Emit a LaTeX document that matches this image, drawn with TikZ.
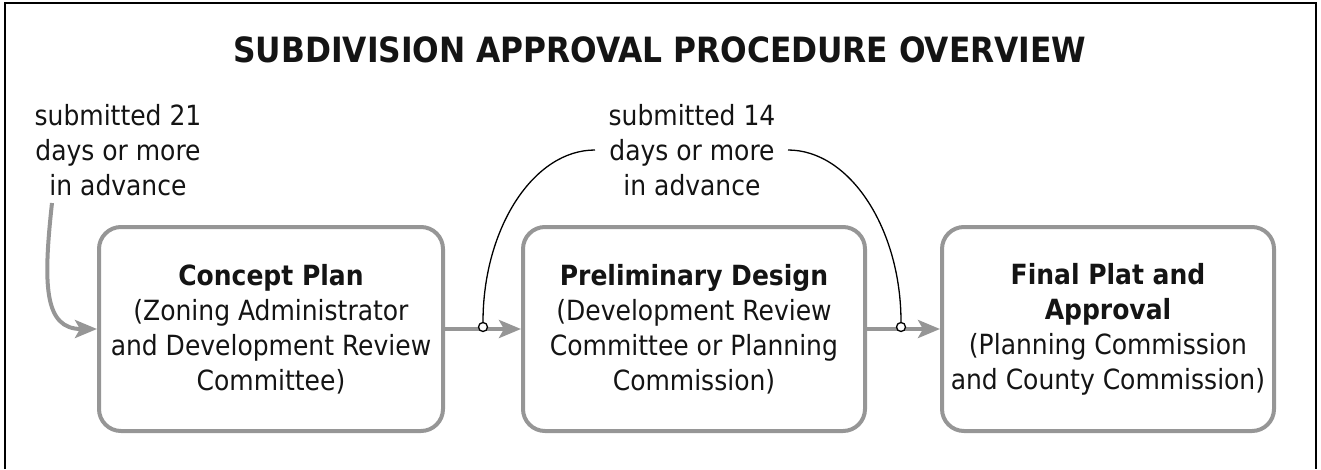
\documentclass[tikz,border=0pt]{standalone}
\usepackage{fontspec}
\setmainfont{DejaVu Sans Condensed}
\usetikzlibrary{arrows.meta}
\definecolor{boxgray}{RGB}{150,150,150}
\definecolor{ink}{RGB}{20,20,20}
\begin{document}
\begin{tikzpicture}[x=1pt,y=-1pt,
  stage/.style={draw=boxgray, line width=4pt, rounded corners=22pt,
    minimum height=204pt, align=center, text=ink,
    font=\fontsize{27.8}{35}\selectfont, inner sep=0pt},
  note/.style={align=center, text=ink, font=\fontsize{27.8}{35}\selectfont, inner sep=0pt},
  flow/.style={draw=boxgray, line width=4pt,
    -{Stealth[length=22pt,width=18pt,inset=5pt]}},
  lead/.style={draw=black, line width=1.3pt},
  knot/.style={circle, draw=black, fill=white, line width=1.3pt,
    minimum size=9pt, inner sep=0pt}
]
\useasboundingbox (0,0) rectangle (1321,469);
% frame (open at the bottom)
\draw[line width=1.5pt] (5,469) -- (5,3) -- (1316,3) -- (1316,469);

% heading
\node[anchor=base, text=ink, font=\fontsize{34.8}{40}\selectfont\bfseries] (title)
  at (660,62) {SUBDIVISION APPROVAL PROCEDURE OVERVIEW};

% the three stages
\node[stage, minimum width=344pt] (concept) at (271,329)
  {\textbf{Concept Plan}\\(Zoning Administrator\\and Development Review\\Committee)};
\node[stage, minimum width=342pt] (prelim) at (694,329)
  {\textbf{Preliminary Design}\\(Development Review\\Committee or Planning\\Commission)};
\node[stage, minimum width=332pt] (final) at (1108,329)
  {\textbf{Final Plat and}\\\textbf{Approval}\\(Planning Commission\\and County Commission)};

% timing notes
\node[note] (note1) at (118,150) {submitted 21\\days or more\\in advance};
\node[note] (note2) at (692,150) {submitted 14\\days or more\\in advance};
\coordinate (start1) at (52,203);
\coordinate (n2l) at (595,150);
\coordinate (n2r) at (788,150);

% flow between stages
\draw[flow] (start1) .. controls (43,285) and (44,329) .. (concept.west);
\draw[flow] (concept.east) -- (prelim.west);
\draw[flow] (prelim.east) -- (final.west);

% submission points on the flow
\node[knot] (k1) at (483,327) {};
\node[knot] (k2) at (901,327) {};
\draw[lead] (n2l) .. controls (533,150) and (483,229) .. (k1);
\draw[lead] (n2r) .. controls (850,150) and (901,229) .. (k2);
\end{tikzpicture}
\end{document}
